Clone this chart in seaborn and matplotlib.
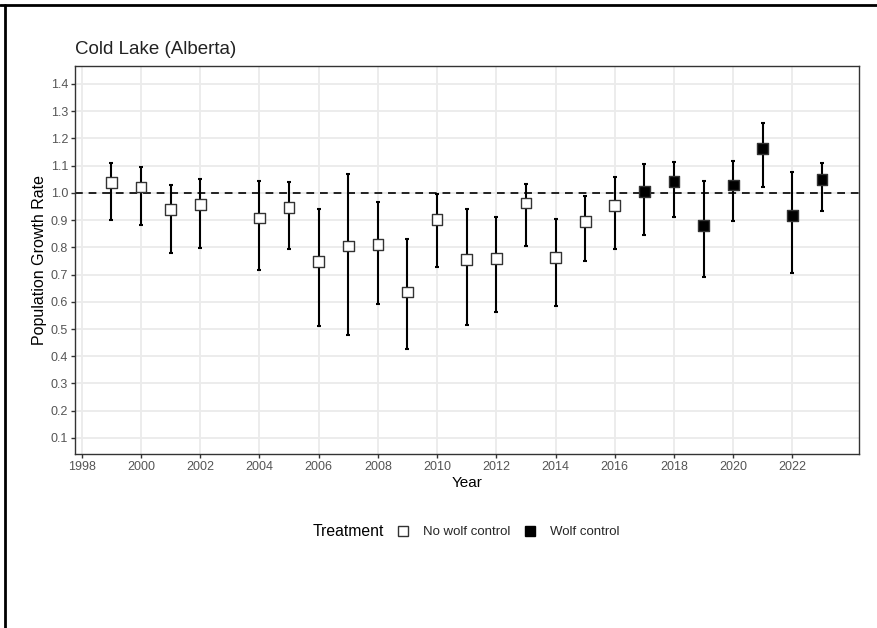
import matplotlib
matplotlib.use("Agg")
import matplotlib.pyplot as plt
from matplotlib.lines import Line2D
import seaborn as sns
import pandas as pd
import numpy as np

years = [1999, 2000, 2001, 2002, 2004, 2005, 2006, 2007, 2008, 2009, 2010, 2011,
         2012, 2013, 2014, 2015, 2016, 2017, 2018, 2019, 2020, 2021, 2022, 2023]
growth = [1.039, 1.022, 0.940, 0.957, 0.908, 0.946, 0.747, 0.805, 0.810, 0.636, 0.902, 0.756,
          0.758, 0.963, 0.763, 0.894, 0.953, 1.006, 1.042, 0.879, 1.029, 1.163, 0.916, 1.048]
upper = [1.111, 1.094, 1.028, 1.050, 1.044, 1.039, 0.941, 1.069, 0.968, 0.830, 0.996, 0.939,
         0.912, 1.031, 0.905, 0.987, 1.060, 1.105, 1.113, 1.044, 1.116, 1.255, 1.076, 1.109]
lower = [0.900, 0.883, 0.778, 0.797, 0.717, 0.793, 0.510, 0.479, 0.592, 0.427, 0.727, 0.515,
         0.563, 0.805, 0.583, 0.750, 0.793, 0.846, 0.913, 0.690, 0.895, 1.023, 0.706, 0.935]
treatment = ["No wolf control"] * 17 + ["Wolf control"] * 7
x_ticks = [1998, 2000, 2002, 2004, 2006, 2008, 2010, 2012, 2014, 2016, 2018, 2020, 2022]
y_ticks = [0.1, 0.2, 0.3, 0.4, 0.5, 0.6, 0.7, 0.8, 0.9, 1.0, 1.1, 1.2, 1.3, 1.4]

df = pd.DataFrame({"Year": years, "Growth": growth, "Upper": upper, "Lower": lower,
                   "Treatment": treatment})

sns.set_theme(style="white")
plt.rcParams["font.family"] = ["Liberation Sans", "DejaVu Sans"]

W, H = 877, 628
fig = plt.figure(figsize=(W / 100, H / 100), dpi=100)
ax = fig.add_axes([75 / W, 1 - 454 / H, (859 - 75) / W, (454 - 66) / H])

# grid
for xt in x_ticks:
    ax.axvline(xt, color="#EBEBEB", lw=1.3, zorder=0)
for yt in y_ticks:
    ax.axhline(yt, color="#EBEBEB", lw=1.3, zorder=0)

ax.axhline(1.0, color="#222222", lw=1.4, ls=(0, (4, 3)), zorder=1)

ax.errorbar(df["Year"], df["Growth"],
            yerr=[df["Growth"] - df["Lower"], df["Upper"] - df["Growth"]],
            fmt="none", ecolor="black", elinewidth=1.5, capsize=1.5, capthick=1.5, zorder=2)

sns.scatterplot(data=df, x="Year", y="Growth", hue="Treatment", marker="s", s=60,
                palette={"No wolf control": "white", "Wolf control": "black"},
                edgecolor="#333333", linewidth=1.0, legend=False, ax=ax, zorder=3)

ax.set_xlim(1997.77, 2024.25)
ax.set_ylim(0.041, 1.466)
ax.set_xticks(x_ticks)
ax.set_xticklabels([str(v) for v in x_ticks])
ax.set_yticks(y_ticks)
ax.set_yticklabels([f"{v:.1f}" for v in y_ticks])
ax.tick_params(axis="both", which="major", length=3, width=1, color="#333333",
               labelsize=9, labelcolor="#555555", pad=2, bottom=True, left=True)
for sp in ax.spines.values():
    sp.set_color("#333333")
    sp.set_linewidth(1.0)
ax.set_xlabel("Year", fontsize=11, color="black", labelpad=2)
ax.set_ylabel("Population Growth Rate", fontsize=11.5, color="black", labelpad=3)
ax.grid(False)

fig.text(75 / W, 1 - 49 / H, "Cold Lake (Alberta)", fontsize=13.5, color="#222222",
         ha="left", va="center")

# legend
fig.text(313 / W, 1 - 532 / H, "Treatment", fontsize=11.3, color="black", ha="left", va="center")
handles = [Line2D([], [], marker="s", ls="none", markersize=7.5, markerfacecolor="white",
                  markeredgecolor="#333333", markeredgewidth=1.0),
           Line2D([], [], marker="s", ls="none", markersize=7.5, markerfacecolor="black",
                  markeredgecolor="black")]
fig.legend(handles, ["No wolf control", "Wolf control"], loc="center left",
           bbox_to_anchor=(397 / W, 1 - 532 / H), ncol=2, frameon=False, fontsize=9.5,
           handlelength=0.9, handletextpad=1.1, columnspacing=1.0, borderaxespad=0,
           borderpad=0)

# outer frame lines (top and left)
fig.add_artist(Line2D([0, 1], [1 - 5 / H, 1 - 5 / H], transform=fig.transFigure,
                      color="black", lw=2))
fig.add_artist(Line2D([5 / W, 5 / W], [0, 1 - 5 / H], transform=fig.transFigure,
                      color="black", lw=2))

fig.savefig("out.png", dpi=100, facecolor="white")
